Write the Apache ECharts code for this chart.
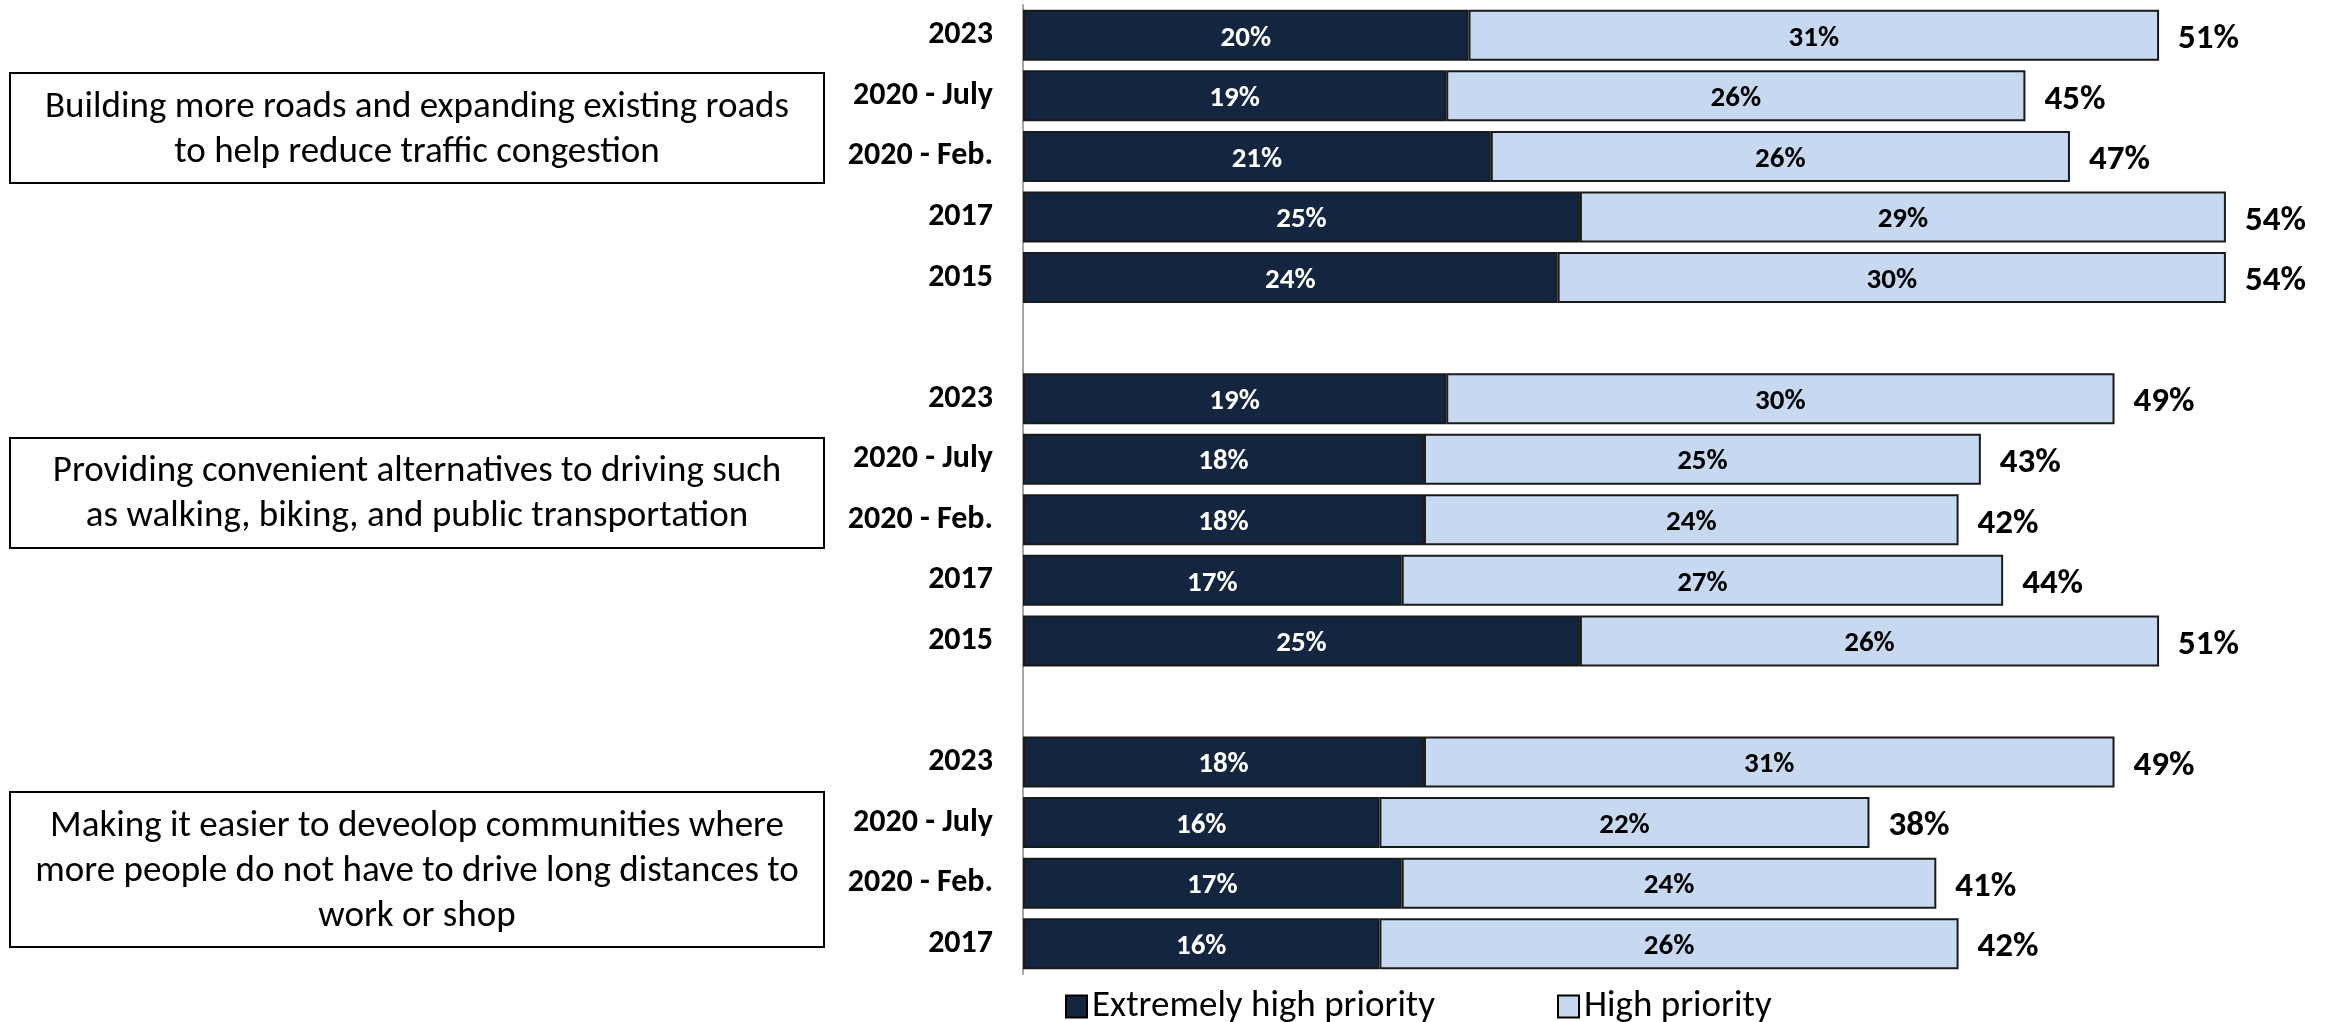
<!DOCTYPE html>
<html>
<head>
<meta charset="utf-8">
<title>Priorities</title>
<script src="https://cdn.jsdelivr.net/npm/echarts@6/dist/echarts.min.js"></script>
<style>
  html, body { margin: 0; padding: 0; background: #fff; }
  #main { width: 2336px; height: 1022px; }
</style>
</head>
<body>
<div id="main"></div>
<script>
// rows top to bottom, '' = spacer row between the groups
var categories = ['2023', '2020 - July', '2020 - Feb.', '2017', '2015', '',
  '2023', '2020 - July', '2020 - Feb.', '2017', '2015', '',
  '2023', '2020 - July', '2020 - Feb.', '2017'];
var extremelyHigh = [20, 19, 21, 25, 24, null, 19, 18, 18, 17, 25, null, 18, 16, 17, 16];
var high = [31, 26, 26, 29, 30, null, 30, 25, 24, 27, 26, null, 31, 22, 24, 26];
var totals = [51, 45, 47, 54, 54, null, 49, 43, 42, 44, 51, null, 49, 38, 41, 42];
var statements = [
  'Building more roads and expanding existing roads\nto help reduce traffic congestion',
  'Providing convenient alternatives to driving such\nas walking, biking, and public transportation',
  'Making it easier to deveolop communities where\nmore people do not have to drive long distances to\nwork or shop'
];

var font = 'Carlito, Calibri, Lato, sans-serif';
var chart = echarts.init(document.getElementById('main'));

function box(y, h, textY, text) {
  return [{
    type: 'rect',
    shape: { x: 10, y: y, width: 814, height: h },
    style: { fill: '#fff', stroke: '#000', lineWidth: 2 }
  }, {
    type: 'text',
    x: 417,
    y: textY,
    style: {
      text: text,
      fontFamily: font,
      fontSize: 37,
      lineHeight: 45,
      fill: '#000',
      align: 'center',
      verticalAlign: 'middle'
    }
  }];
}

var option = {
  backgroundColor: '#fff',
  animation: false,
  color: ['#13253F', '#C6D9F0'],
  grid: {
    left: 1023,
    top: 5,
    width: 1292,
    height: 969
  },
  legend: {
    data: ['Extremely high priority', 'High priority'],
    left: 1060,
    top: 983,
    icon: 'rect',
    itemWidth: 21,
    itemHeight: 22,
    itemGap: 122,
    itemStyle: { borderColor: '#000', borderWidth: 2 },
    textStyle: { fontFamily: font, fontSize: 37, color: '#000' }
  },
  xAxis: {
    type: 'value',
    min: 0,
    max: 58,
    show: false
  },
  yAxis: {
    type: 'category',
    inverse: true,
    data: categories,
    axisLine: { show: true, lineStyle: { color: '#A6A6A6', width: 2 } },
    axisTick: { show: false },
    axisLabel: {
      margin: 30,
      padding: [5, 0, 0, 0],
      fontFamily: font,
      fontWeight: 'bold',
      fontSize: 32,
      color: '#000'
    }
  },
  graphic: [].concat(
    box(73, 110, 130, statements[0]),
    box(438, 110, 494, statements[1]),
    box(792, 155, 872, statements[2])
  ),
  series: [{
    name: 'Extremely high priority',
    type: 'bar',
    stack: 'p',
    barWidth: 51,
    itemStyle: { borderColor: '#1a1a1a', borderWidth: 2 },
    label: {
      show: true,
      position: 'inside',
      offset: [0, 3],
      formatter: '{c}%',
      fontFamily: font,
      fontWeight: 'bold',
      fontSize: 29,
      color: '#fff'
    },
    data: extremelyHigh
  }, {
    name: 'High priority',
    type: 'bar',
    stack: 'p',
    barWidth: 51,
    itemStyle: { borderColor: '#1a1a1a', borderWidth: 2 },
    label: {
      show: true,
      position: 'inside',
      offset: [0, 3],
      formatter: '{c}%',
      fontFamily: font,
      fontWeight: 'bold',
      fontSize: 29,
      color: '#000'
    },
    data: high
  }, {
    name: 'Total',
    type: 'bar',
    barWidth: 51,
    barGap: '-100%',
    z: 1,
    silent: true,
    itemStyle: { color: 'rgba(0,0,0,0)' },
    label: {
      show: true,
      position: 'right',
      distance: 19,
      offset: [0, 4],
      formatter: '{c}%',
      fontFamily: font,
      fontWeight: 'bold',
      fontSize: 35,
      color: '#000'
    },
    data: totals
  }]
};

chart.setOption(option);
</script>
</body>
</html>
